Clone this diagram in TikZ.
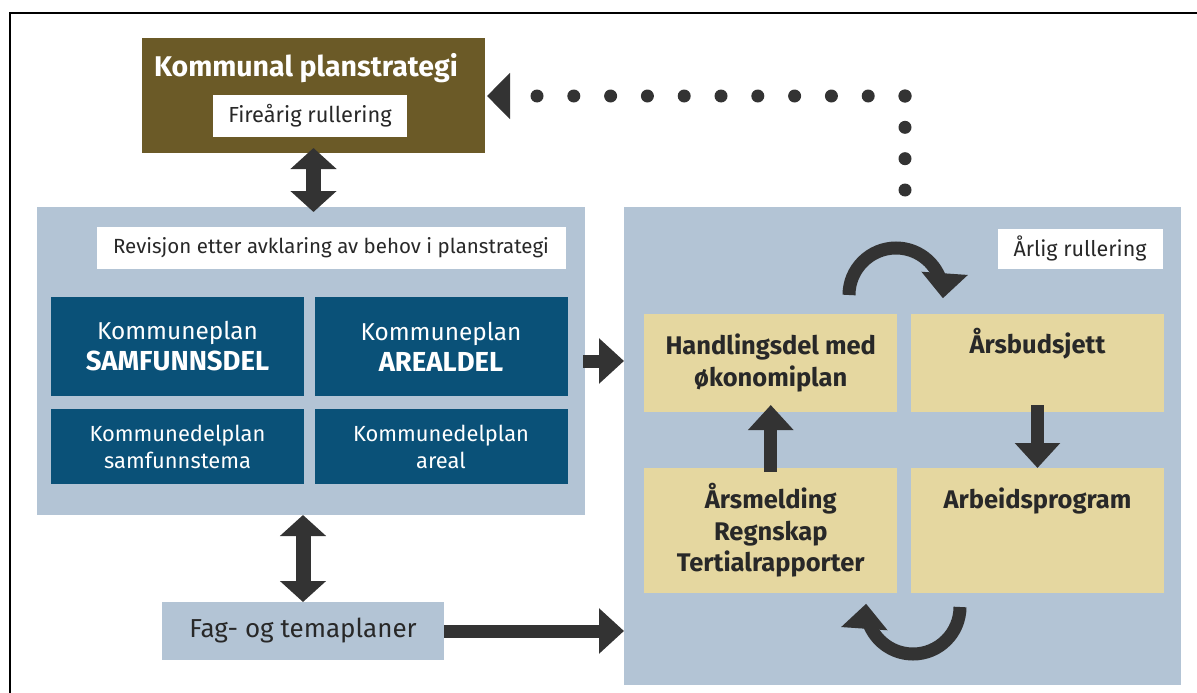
\documentclass[tikz,border=0pt]{standalone}
\usepackage{fontspec}
\setmainfont{Fira Sans}
\usepackage{tikz}
\usetikzlibrary{arrows.meta, positioning}
\definecolor{kpsbrown}{RGB}{107,90,39}
\definecolor{panelblue}{RGB}{179,196,213}
\definecolor{planblue}{RGB}{10,81,120}
\definecolor{budgetyellow}{RGB}{229,215,160}
\definecolor{arrowgray}{RGB}{51,51,51}
\definecolor{inkgray}{RGB}{40,40,40}
\tikzstyle{panel} = [rectangle, fill=panelblue, inner sep=0pt, outer sep=0pt]
\tikzstyle{tag} = [rectangle, fill=white, inner sep=0pt, outer sep=0pt, text=inkgray, font=\fontsize{21.8}{23}\selectfont]
\tikzstyle{headtext} = [text=white, inner sep=0pt, font=\bfseries\fontsize{28.5}{30}\selectfont]
\tikzstyle{planbox} = [rectangle, fill=planblue, text=white, align=center, inner sep=0pt, outer sep=0pt, minimum width=253pt]
\tikzstyle{yellbox} = [rectangle, fill=budgetyellow, inner sep=0pt, outer sep=0pt, minimum width=253pt, text=inkgray, align=center, font=\bfseries\fontsize{25.5}{31.5}\selectfont]
\tikzstyle{yelltext} = [inner sep=0pt, text=inkgray, font=\bfseries\fontsize{25.5}{31.5}\selectfont]
\tikzstyle{fat} = [draw=arrowgray, line width=13pt, -{Triangle[width=44pt,length=25pt]}]
\tikzstyle{fatboth} = [draw=arrowgray, line width=15pt, {Triangle[width=45pt,length=21pt]}-{Triangle[width=45pt,length=21pt]}]
\tikzstyle{curl} = [draw=arrowgray, line width=13pt, -{Triangle[width=45pt,length=25pt]}]
\tikzstyle{dotline} = [draw=arrowgray, line width=13pt, line cap=round]

\begin{document}
\begin{tikzpicture}[x=1pt, y=-1pt]
  \useasboundingbox (0,0) rectangle (1197,693);
  \draw [line width=2.5pt] (10,693) -- (10,13) -- (1197,13);

  % planstrategi
  \node [rectangle, fill=kpsbrown, inner sep=0pt, outer sep=0pt, minimum width=343pt, minimum height=115pt] (kps) at (313.5,95.5) {};
  \node [headtext, anchor=base] (kpstitle) at (306,77) {Kommunal planstrategi};
  \node [tag, minimum width=194pt, minimum height=42pt] (fire) at (310,116) {Fireårig rullering};

  % kommuneplan
  \node [panel, minimum width=548.5pt, minimum height=308pt] (lp) at (310.75,361) {};
  \node [tag, font=\fontsize{20.5}{22}\selectfont, minimum width=469pt, minimum height=42pt] (rev) at (331,248) {Revisjon etter avklaring av behov i planstrategi};
  \node [planbox, minimum height=99pt, font=\fontsize{24.4}{31}\selectfont] (samf) at (177.5,346.5) {Kommuneplan\\{\bfseries\fontsize{27.5}{31}\selectfont SAMFUNNSDEL}};
  \node [planbox, minimum height=99pt, font=\fontsize{24.4}{31}\selectfont] (areal) at (441,346.5) {Kommuneplan\\{\bfseries\fontsize{27.5}{31}\selectfont AREALDEL}};
  \node [planbox, minimum height=75pt, font=\fontsize{21.9}{27}\selectfont] (samftema) at (177.5,446.5) {Kommunedelplan\\samfunnstema};
  \node [planbox, minimum height=75pt, font=\fontsize{21.9}{27}\selectfont] (arealdel) at (441,446.5) {Kommunedelplan\\areal};

  \node [panel, minimum width=282pt, minimum height=58pt, text=inkgray, font=\fontsize{26}{28}\selectfont] (fag) at (303,631) {Fag- og temaplaner};

  % handlingsdel
  \node [panel, minimum width=557pt, minimum height=478pt] (rp) at (902.5,446) {};
  \node [tag, font=\fontsize{21.5}{23}\selectfont, minimum width=165pt, minimum height=40pt] (aarlig) at (1080,248.5) {Årlig rullering};
  \node [yellbox, minimum height=98pt] (hand) at (770.75,363) {Handlingsdel med\\økonomiplan};
  \node [yellbox, minimum height=98pt] (bud) at (1037.5,363) {};
  \node [yellbox, minimum height=125pt] (mrep) at (770.75,530.5) {Årsmelding\\Regnskap\\Tertialrapporter};
  \node [yellbox, minimum height=125pt] (arb) at (1037.5,530.5) {};
  \node [yelltext, anchor=base] (budtxt) at (1037.5,353) {Årsbudsjett};
  \node [yelltext, anchor=base] (arbtxt) at (1037.5,508) {Arbeidsprogram};

  % piler
  \path [fatboth, shorten <=-5pt, shorten >=-5pt] (kps.south) -- (kps.south |- lp.north);
  \path [fat, shorten <=-2pt] (lp.east) -- (lp.east -| rp.west);
  \path [fatboth] (fag.north) -- (fag.north |- lp.south);
  \path [fat] (fag.east) -- (fag.east -| rp.west);
  \path [fat, shorten <=-4pt, shorten >=-7pt] (mrep.north) -- (hand.south);
  \path [fat, shorten <=-7pt] (bud.south) -- (arb.north);

  \coordinate (topcurve) at (849,295);
  \path [curl] (topcurve) arc [start angle=180, end angle=364, radius=47];
  \coordinate (botcurve) at (960,607);
  \path [curl] (botcurve) arc [start angle=0, end angle=184, radius=47];

  \coordinate (dotstart) at (905,190);
  \coordinate (dotcorner) at (905,96);
  \path [dotline, dash pattern=on 0pt off 31.33pt] (dotstart) -- (dotcorner);
  \path [dotline, dash pattern=on 0pt off 36.8pt, -{Triangle[width=45pt,length=23pt]}, shorten >=2pt] (dotcorner) -- (dotcorner -| kps.east);
\end{tikzpicture}
\end{document}
